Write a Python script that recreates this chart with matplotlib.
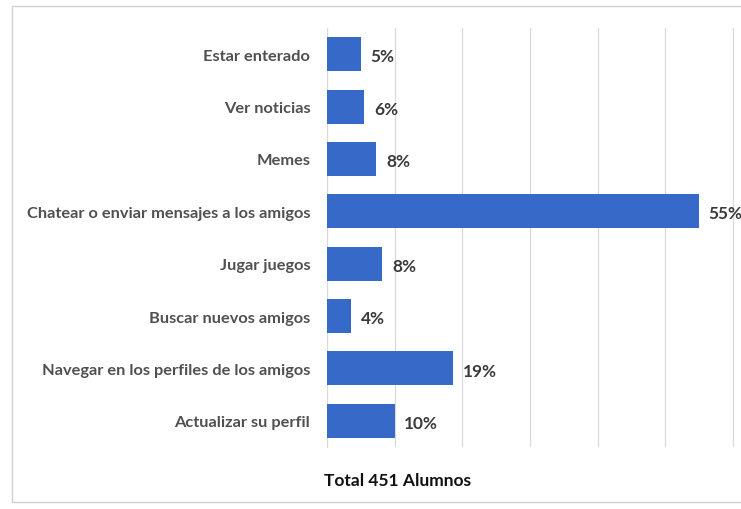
import numpy as np
import matplotlib.pyplot as plt
from matplotlib.patches import Rectangle

categorias = ['Estar enterado', 'Ver noticias', 'Memes',
              'Chatear o enviar mensajes a los amigos', 'Jugar juegos',
              'Buscar nuevos amigos', 'Navegar en los perfiles de los amigos',
              'Actualizar su perfil']
porcentajes = [5.0, 5.5, 7.3, 55.0, 8.2, 3.6, 18.6, 10.0]
etiquetas = ['5%', '6%', '8%', '55%', '8%', '4%', '19%', '10%']
xticks = [0, 10, 20, 30, 40, 50, 60]
titulo = 'Total 451 Alumnos'

plt.rcParams['font.family'] = ['Lato', 'DejaVu Sans']

fig = plt.figure(figsize=(7.41, 5.10), dpi=100)
fig.patches.append(Rectangle((12 / 741, 7 / 510), 740 / 741, 496 / 510,
                             transform=fig.transFigure, facecolor='white',
                             edgecolor='#d0d0d0', linewidth=1.0, zorder=-1))

ax = fig.add_axes([327 / 741, 62 / 510, 414 / 741, 419 / 510])
ax.set_facecolor('none')
y = np.arange(len(categorias))
ax.barh(y, porcentajes, height=0.65, color='#3769c9', zorder=3)
ax.set_ylim(len(categorias) - 0.5, -0.5)
ax.set_xlim(0, 61.2)
ax.set_xticks(xticks)
ax.set_xticklabels([])
ax.grid(axis='x', color='#d9d9d9', linewidth=0.9, zorder=0)
ax.tick_params(axis='both', length=0)
ax.set_yticks(y)
ax.set_yticklabels(categorias, fontsize=11.8, fontweight='bold', color='#505050')
ax.tick_params(axis='y', pad=12)
for s in ['top', 'right', 'bottom']:
    ax.spines[s].set_visible(False)
ax.spines['left'].set_color('#d9d9d9')

for yi, v, t in zip(y, porcentajes, etiquetas):
    ax.annotate(t, (v, yi), xytext=(7, -1.5), textcoords='offset points',
                va='center', ha='left', fontsize=12.4, fontweight='bold',
                color='#3a3a3a', annotation_clip=False)

fig.text(398 / 741, 1 - 481 / 510, titulo, ha='center', va='center',
         fontsize=12.5, fontweight='bold', color='#111111')

fig.savefig('out.png', dpi=100)
